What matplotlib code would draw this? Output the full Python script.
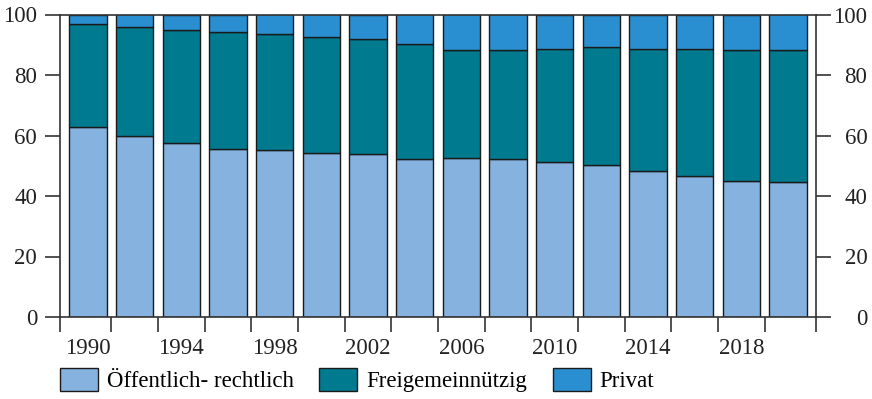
import numpy as np
import matplotlib
matplotlib.use("Agg")
import matplotlib.pyplot as plt

plt.rcParams['font.family'] = ['Liberation Serif', 'DejaVu Serif']

years = list(range(1990, 2021, 2))
oeffentlich = [62.8, 59.9, 57.4, 55.7, 55.3, 54.2, 54.0, 52.2,
               52.5, 52.2, 51.4, 50.1, 48.1, 46.5, 45.0, 44.5]
freigemein = [33.9, 36.0, 37.4, 38.4, 38.1, 38.5, 37.9, 38.1,
              35.9, 35.9, 37.3, 39.1, 40.6, 42.2, 43.3, 43.6]
privat = [3.3, 4.1, 5.2, 5.9, 6.6, 7.3, 8.1, 9.7,
          11.6, 11.9, 11.3, 10.8, 11.3, 11.3, 11.7, 11.9]
labels = ["Öffentlich- rechtlich", "Freigemeinnützig", "Privat"]
year_labels = [str(y) for y in years[::2]]

colors = ["#86B2DF", "#007A8F", "#2A8FD1"]
edge = "#1a1a1a"
axis_col = "#333333"
fs = 16.5

fig = plt.figure(figsize=(8.72, 3.99), dpi=100)
ax = fig.add_axes([60 / 872, 82 / 399, 756 / 872, 302.5 / 399])

x = np.arange(len(years))
o = np.array(oeffentlich)
f = np.array(freigemein)
p = np.array(privat)
b1 = ax.bar(x, o, width=0.8, color=colors[0], edgecolor=edge, linewidth=1.0)
b2 = ax.bar(x, f, width=0.8, bottom=o, color=colors[1], edgecolor=edge, linewidth=1.0)
b3 = ax.bar(x, p, width=0.8, bottom=o + f, color=colors[2], edgecolor=edge, linewidth=1.0)

ax.set_xlim(-0.6, len(years) - 0.4)
ax.set_ylim(0, 100)

for s in ax.spines.values():
    s.set_color(axis_col)
    s.set_linewidth(1.2)

# y axis, left side
yt = np.arange(0, 101, 20)
ax.set_yticks(yt)
ax.set_yticklabels([str(v) for v in yt], fontsize=fs)
ax.tick_params(axis='y', which='major', direction='out', length=11, width=1.2,
               color=axis_col, pad=5.5, labelcolor="#222222")

# y axis, right side
ax2 = ax.twinx()
ax2.set_ylim(0, 100)
ax2.set_yticks(yt)
ax2.set_yticklabels([str(v) for v in yt], fontsize=fs)
ax2.tick_params(axis='y', which='major', direction='out', length=11, width=1.2,
                color=axis_col, pad=26, labelcolor="#222222")
for lab in ax2.get_yticklabels():
    lab.set_horizontalalignment('right')
for s in ax2.spines.values():
    s.set_visible(False)

# x axis: labels under every second bar, tick marks between bars
ax.set_xticks(x[::2])
ax.set_xticklabels(year_labels, fontsize=fs)
ax.tick_params(axis='x', which='major', length=0, pad=15, labelcolor="#222222")
edges = [-0.6] + list(np.arange(0.5, len(years) - 1, 1.0)) + [len(years) - 0.4]
ax.set_xticks(edges, minor=True)
ax.tick_params(axis='x', which='minor', direction='out', length=10.5, width=1.2,
               color=axis_col)

fig.legend([b1, b2, b3], labels, ncol=3, loc='upper left',
           bbox_to_anchor=(60 / 872, 31 / 399), frameon=False, fontsize=fs,
           handlelength=1.66, handleheight=1.17, handletextpad=0.40,
           columnspacing=1.1, borderpad=0, borderaxespad=0)

fig.savefig("out.png", dpi=100)
